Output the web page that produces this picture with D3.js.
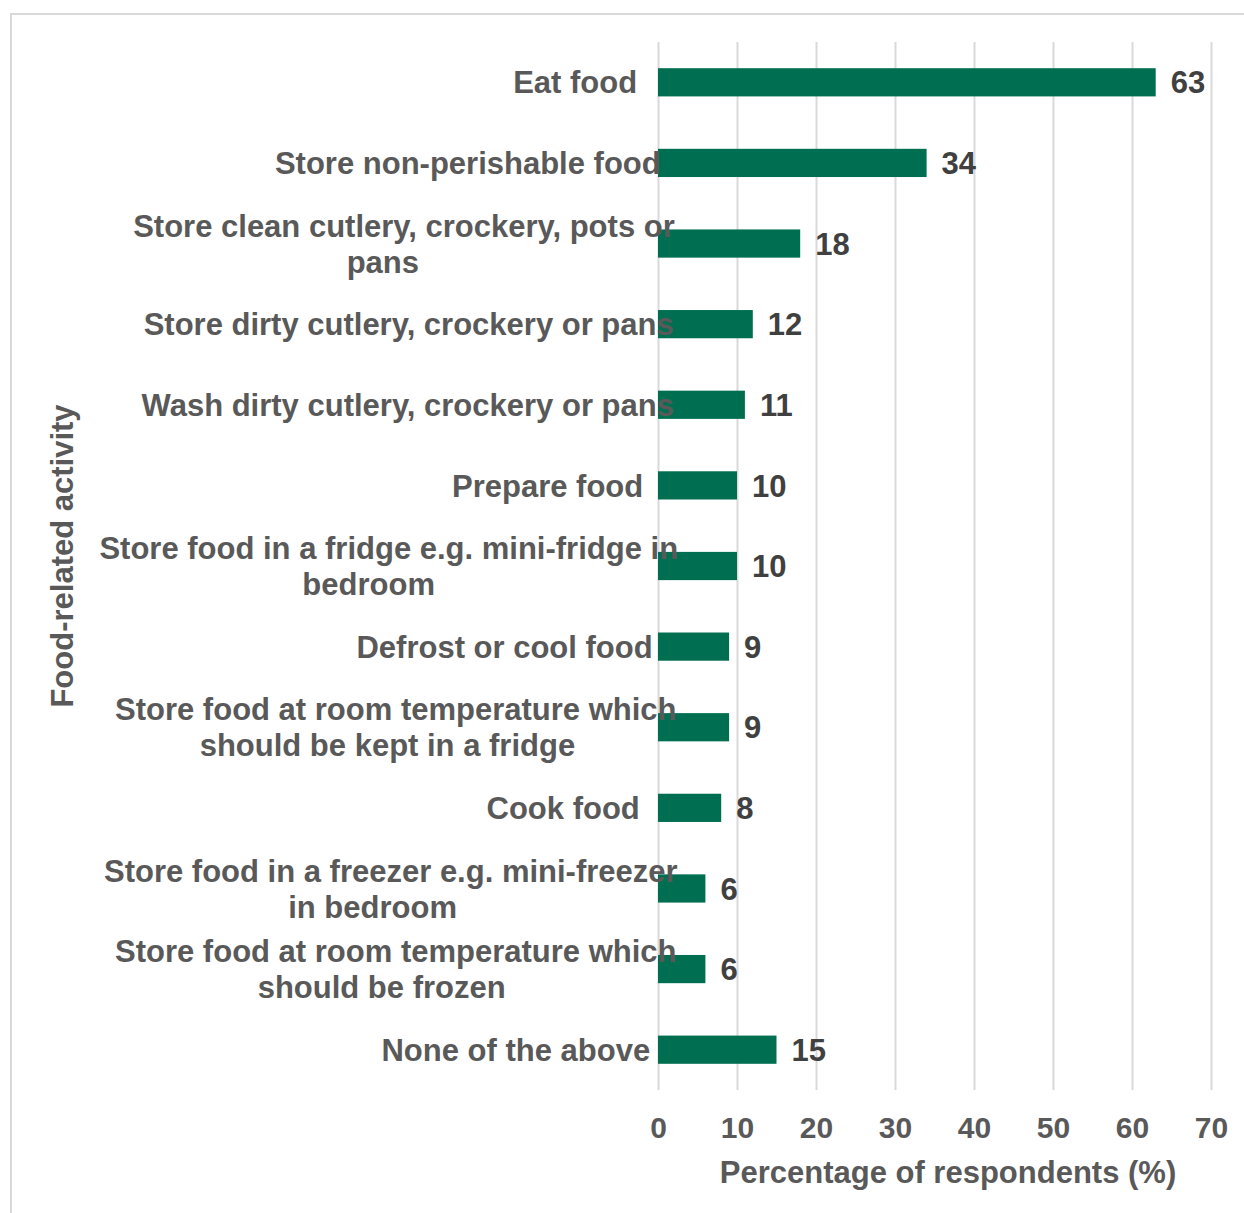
<!DOCTYPE html>
<html>
<head>
<meta charset="utf-8">
<script src="https://cdn.jsdelivr.net/npm/d3@7"></script>
<style>
  html, body { margin: 0; padding: 0; background: #ffffff; }
  svg { display: block; font-family: "Liberation Sans", Arial, sans-serif; }
</style>
</head>
<body>
<svg id="chart" width="1244" height="1213"></svg>
<script>
// ---- data ----
const categories = [
  "Eat food",
  "Store non-perishable food",
  "Store clean cutlery, crockery, pots or\npans",
  "Store dirty cutlery, crockery or pans",
  "Wash dirty cutlery, crockery or pans",
  "Prepare food",
  "Store food in a fridge e.g. mini-fridge in\nbedroom",
  "Defrost or cool food",
  "Store food at room temperature which\nshould be kept in a fridge",
  "Cook food",
  "Store food in a freezer e.g. mini-freezer\nin bedroom",
  "Store food at room temperature which\nshould be frozen",
  "None of the above"
];
const values = [63, 34, 18, 12, 11, 10, 10, 9, 9, 8, 6, 6, 15];
const xTicks = [0, 10, 20, 30, 40, 50, 60, 70];
const xTitle = "Percentage of respondents (%)";
const yTitle = "Food-related activity";

// ---- layout ----
const W = 1244, H = 1213;
const plot = { left: 658, right: 1211, top: 42, bottom: 1090 };
const barColor = "#006f51";
const textColor = "#595959";
const valueColor = "#404040";
const labelSize = 31;
const tickSize = 30;

const svg = d3.select("#chart");

// outer border (chart area)
svg.append("rect")
  .attr("x", 11).attr("y", 14)
  .attr("width", W + 20).attr("height", H + 20)
  .attr("fill", "#ffffff")
  .attr("stroke", "#d9d9d9").attr("stroke-width", 2);

const x = d3.scaleLinear().domain([0, 70]).range([plot.left, plot.right]);
const y = d3.scaleBand().domain(categories)
  .range([plot.top, plot.bottom])
  .paddingInner(0.65).paddingOuter(0.325);

// x axis with gridlines
const xAxis = svg.append("g")
  .attr("transform", `translate(0,${plot.bottom})`)
  .call(d3.axisBottom(x).tickValues(xTicks)
    .tickSize(-(plot.bottom - plot.top)).tickPadding(27));
xAxis.select(".domain").remove();
xAxis.selectAll(".tick line").attr("stroke", "#d9d9d9").attr("stroke-width", 2);
xAxis.selectAll(".tick text")
  .attr("fill", textColor)
  .style("font-size", tickSize + "px")
  .style("font-weight", "bold")
  .style("font-family", '"Liberation Sans", Arial, sans-serif');

// bars
svg.append("g").selectAll("rect")
  .data(categories)
  .join("rect")
  .attr("x", x(0))
  .attr("y", d => y(d))
  .attr("width", (d, i) => x(values[i]) - x(0))
  .attr("height", y.bandwidth())
  .attr("fill", barColor);

// value labels
svg.append("g").selectAll("text")
  .data(categories)
  .join("text")
  .attr("x", (d, i) => x(values[i]) + 15)
  .attr("y", d => y(d) + y.bandwidth() / 2)
  .attr("dy", "0.36em")
  .attr("fill", valueColor)
  .style("font-size", labelSize + "px")
  .style("font-weight", "bold")
  .text((d, i) => values[i]);

// category labels (drawn over bars as in the reference)
const R = 626, k = 0.91, lineH = 36;
const labG = svg.append("g");
categories.forEach(c => {
  const lines = c.split("\n");
  const cy = y(c) + y.bandwidth() / 2;
  const nodes = lines.map((ln, i) => labG.append("text")
    .attr("y", cy + (i - (lines.length - 1) / 2) * lineH)
    .attr("dy", "0.36em")
    .attr("fill", textColor)
    .style("font-size", labelSize + "px")
    .style("font-weight", "bold")
    .text(ln));
  const widths = nodes.map(n => n.node().getComputedTextLength());
  const maxW = d3.max(widths);
  const c0 = R - k * maxW / 2;
  nodes.forEach((n, i) => n.attr("x", c0 - k * widths[i] / 2));
});

// axis titles
svg.append("text")
  .attr("x", 948)
  .attr("y", 1172)
  .attr("dy", "0.36em")
  .attr("text-anchor", "middle")
  .attr("fill", textColor)
  .style("font-size", labelSize + "px")
  .style("font-weight", "bold")
  .text(xTitle);

svg.append("text")
  .attr("transform", "translate(62,556) rotate(-90)")
  .attr("dy", "0.36em")
  .attr("text-anchor", "middle")
  .attr("fill", textColor)
  .style("font-size", labelSize + "px")
  .style("font-weight", "bold")
  .text(yTitle);
</script>
</body>
</html>
